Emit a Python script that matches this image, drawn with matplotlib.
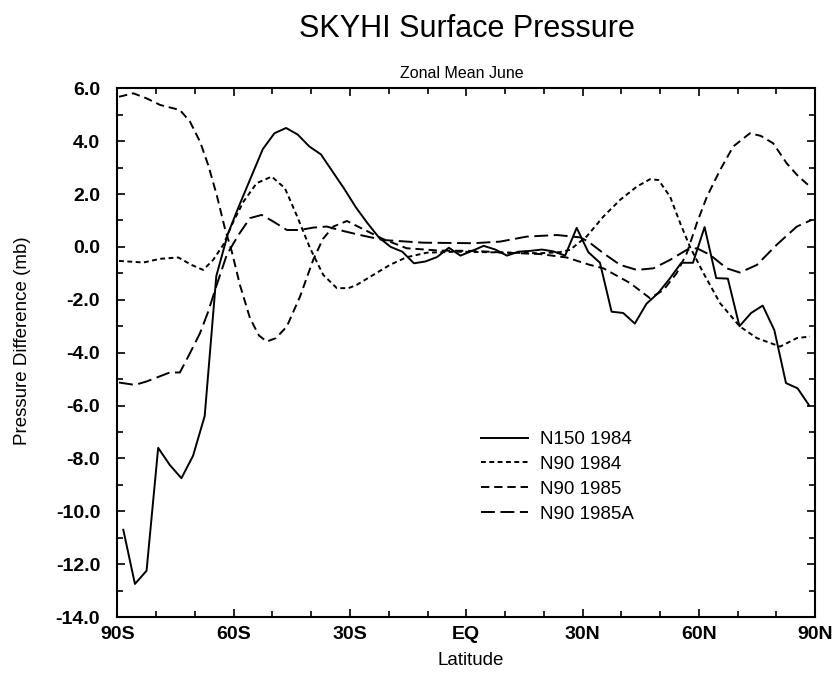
import matplotlib
matplotlib.use("Agg")
import matplotlib.pyplot as plt
from matplotlib.ticker import MultipleLocator, FixedLocator

plt.rcParams['font.family'] = ['Liberation Sans', 'DejaVu Sans']
plt.rcParams['lines.scale_dashes'] = False

# N150 1984 (solid), 3 degree grid
lat_n150 = [-88.5, -85.5, -82.5, -79.5, -76.5, -73.5, -70.5, -67.5, -64.5, -61.5,
            -58.5, -55.5, -52.5, -49.5, -46.5, -43.5, -40.5, -37.5, -34.5, -31.5,
            -28.5, -25.5, -22.5, -19.5, -16.5, -13.5, -10.5, -7.5, -4.5, -1.5,
            1.5, 4.5, 7.5, 10.5, 13.5, 16.5, 19.5, 22.5, 25.5, 28.5,
            31.5, 34.5, 37.5, 40.5, 43.5, 46.5, 49.5, 52.5, 55.5, 58.5,
            61.5, 64.5, 67.5, 70.5, 73.5, 76.5, 79.5, 82.5, 85.5, 88.5]
n150_1984 = [-10.7, -12.75, -12.25, -7.6, -8.25, -8.75, -7.9, -6.4, -1.1, 0.5,
             1.6, 2.65, 3.7, 4.3, 4.5, 4.25, 3.8, 3.5, 2.85, 2.2,
             1.5, 0.9, 0.35, 0.0, -0.18, -0.62, -0.55, -0.38, -0.03, -0.33,
             -0.15, 0.04, -0.1, -0.33, -0.18, -0.15, -0.1, -0.17, -0.33, 0.72,
             -0.2, -0.6, -2.45, -2.5, -2.9, -2.15, -1.75, -1.2, -0.6, -0.6,
             0.75, -1.18, -1.2, -3.0, -2.5, -2.22, -3.15, -5.15, -5.35, -6.0]

# N90 1984 (short dash)
lat_n90_84 = [-89.6, -83.3, -79.0, -74.3, -70.9, -67.9, -65.3, -62.7, -60.1, -57.5,
              -54.1, -50.2, -46.8, -43.8, -40.3, -36.9, -33.4, -30.4, -28.3, -24.0,
              -19.7, -15.4, -10.2, -2.5, 5.0, 12.0, 19.0, 24.0, 26.8, 31.1,
              35.4, 39.7, 44.0, 47.4, 49.6, 52.6, 55.2, 57.7, 61.2, 65.5,
              70.6, 75.0, 81.0, 85.3, 88.7]
n90_1984 = [-0.53, -0.59, -0.45, -0.40, -0.68, -0.87, -0.49, 0.08, 0.96, 1.71,
            2.41, 2.66, 2.22, 1.21, -0.05, -1.06, -1.56, -1.56, -1.44, -1.06,
            -0.68, -0.39, -0.22, -0.18, -0.2, -0.22, -0.24, -0.2, -0.11, 0.4,
            1.15, 1.78, 2.28, 2.56, 2.53, 1.90, 0.90, 0.01, -0.99, -2.13,
            -3.01, -3.45, -3.77, -3.45, -3.39]

# N90 1985 (medium dash)
lat_n90_85 = [-89.6, -85.9, -82.5, -79.0, -73.9, -71.3, -68.7, -66.6, -64.4, -62.3,
              -60.5, -58.4, -55.8, -53.5, -51.5, -49.1, -46.3, -42.9, -39.5, -37.0,
              -34.3, -30.8, -27.0, -21.5, -15.4, -6.8, 1.9, 10.4, 19.0, 25.9,
              31.9, 35.4, 42.3, 47.4, 50.9, 54.3, 56.9, 59.5, 62.1, 65.5,
              68.9, 73.2, 76.0, 79.2, 82.7, 85.5, 88.7]
n90_1985 = [5.68, 5.81, 5.62, 5.37, 5.18, 4.74, 3.98, 3.1, 1.97, 0.71,
            -0.18, -1.44, -2.70, -3.35, -3.58, -3.45, -3.01, -1.88, -0.49, 0.3,
            0.77, 0.98, 0.7, 0.3, -0.05, -0.14, -0.15, -0.22, -0.27, -0.4,
            -0.68, -0.81, -1.37, -1.94, -1.63, -0.99, -0.24, 0.90, 1.90, 2.91,
            3.8, 4.3, 4.2, 3.92, 3.16, 2.7, 2.28]

# N90 1985A (long dash)
lat_n90_85a = [-89.6, -85.5, -82.5, -76.5, -73.9, -71.3, -68.7, -66.6, -64.4, -61.8,
               -58.8, -55.8, -52.8, -49.8, -46.3, -42.9, -39.5, -36.0, -31.7, -27.4,
               -21.4, -11.1, 1.9, 8.7, 15.6, 23.4, 29.4, 31.5, 35.4, 39.7,
               44.0, 48.3, 52.6, 56.9, 59.5, 62.9, 67.2, 70.6, 75.0, 80.1,
               85.3, 89.1]
n90_1985a = [-5.13, -5.22, -5.09, -4.75, -4.75, -4.02, -3.26, -2.45, -1.44, -0.30,
             0.45, 1.09, 1.21, 0.96, 0.64, 0.64, 0.73, 0.77, 0.6, 0.45,
             0.26, 0.16, 0.14, 0.2, 0.39, 0.45, 0.36, 0.2, -0.24, -0.68,
             -0.87, -0.81, -0.49, -0.11, -0.05, -0.30, -0.81, -0.97, -0.68, 0.08,
             0.77, 1.02]

lat_ticks = [-90, -60, -30, 0, 30, 60, 90]
lat_labels = ['90S', '60S', '30S', 'EQ', '30N', '60N', '90N']

fig = plt.figure(figsize=(8.38, 6.73), dpi=100)
ax = fig.add_axes([0.1402, 0.0832, 0.8324, 0.7856])

lw = 1.4
ax.plot(lat_n150, n150_1984, color='black', linewidth=lw, linestyle='-', label='N150 1984')
ax.plot(lat_n90_84, n90_1984, color='black', linewidth=lw, linestyle=(0, (3.5, 2.5)), label='N90 1984')
ax.plot(lat_n90_85, n90_1985, color='black', linewidth=lw, linestyle=(0, (6, 3.5)), label='N90 1985')
ax.plot(lat_n90_85a, n90_1985a, color='black', linewidth=lw, linestyle=(0, (10, 4)), label='N90 1985A')

ax.set_xlim(-90, 90)
ax.set_ylim(-14, 6)
ax.xaxis.set_major_locator(FixedLocator(lat_ticks))
ax.set_xticklabels(lat_labels)
ax.xaxis.set_minor_locator(MultipleLocator(10))
ax.yaxis.set_major_locator(MultipleLocator(2))
ax.yaxis.set_minor_locator(MultipleLocator(1))
ax.yaxis.set_major_formatter(plt.FormatStrFormatter('%.1f'))

ax.tick_params(which='both', direction='in', top=True, right=True, width=1.2)
ax.tick_params(which='major', length=6)
ax.tick_params(which='minor', length=4)
ax.tick_params(axis='y', which='major', pad=12.5)
ax.tick_params(axis='x', which='major', pad=6.5)
for lab in ax.get_xticklabels() + ax.get_yticklabels():
    lab.set_fontsize(14)
    lab.set_fontweight('bold')
for sp in ax.spines.values():
    sp.set_linewidth(1.5)

ax.set_xlabel('Latitude', fontsize=13.5)
ax.set_ylabel('Pressure Difference (mb)', fontsize=13.5)
ax.xaxis.set_label_coords(0.507, -0.066)
ax.yaxis.set_label_coords(-0.124, 0.523)

fig.text(467 / 838, 1 - 29 / 673, 'SKYHI Surface Pressure', fontsize=22, ha='center', va='center')
fig.text(462 / 838, 1 - 73 / 673, 'Zonal Mean June', fontsize=11.5, ha='center', va='center')

ax.legend(loc='upper left', bbox_to_anchor=(481 / 838, 1 - 431 / 673),
          bbox_transform=fig.transFigure, frameon=False, fontsize=13.5,
          handlelength=2.5, handletextpad=0.64, labelspacing=0.41,
          borderpad=0, borderaxespad=0)

fig.savefig('out.png', dpi=100)
